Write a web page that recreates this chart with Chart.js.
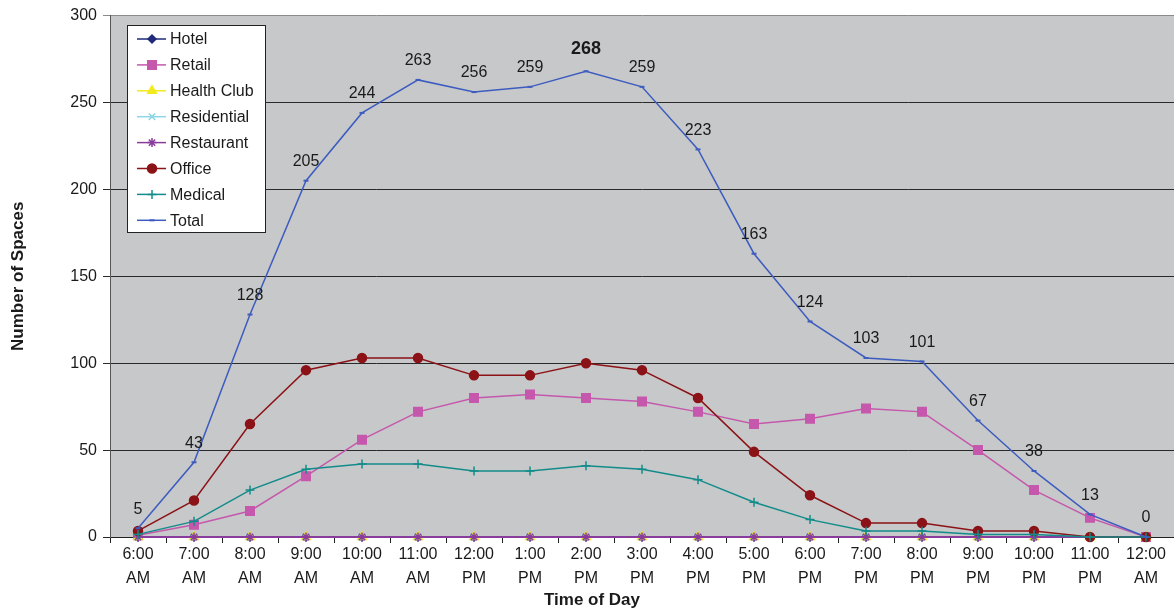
<!DOCTYPE html>
<html>
<head>
<meta charset="utf-8">
<script src="https://cdn.jsdelivr.net/npm/chart.js@4/dist/chart.umd.min.js"></script>
<style>
  html, body { margin: 0; padding: 0; background: #ffffff; }
  #wrap { width: 1174px; height: 610px; }
</style>
</head>
<body>
<div id="wrap"><canvas id="c" width="1174" height="610"></canvas></div>
<script>
// Hourly parking demand by land use
const timeLabels = [
  ['6:00','AM'], ['7:00','AM'], ['8:00','AM'], ['9:00','AM'], ['10:00','AM'], ['11:00','AM'],
  ['12:00','PM'], ['1:00','PM'], ['2:00','PM'], ['3:00','PM'], ['4:00','PM'], ['5:00','PM'],
  ['6:00','PM'], ['7:00','PM'], ['8:00','PM'], ['9:00','PM'], ['10:00','PM'], ['11:00','PM'],
  ['12:00','AM']
];
const hotel       = [0,0,0,0,0,0,0,0,0,0,0,0,0,0,0,0,0,0,0];
const retail      = [1,7,15,35,56,72,80,82,80,78,72,65,68,74,72,50,27,11,0];
const healthClub  = [0,0,0,0,0,0,0,0,0,0,0,0,0,0,0,0,0,0,0];
const residential = [0,0,0,0,0,0,0,0,0,0,0,0,0,0,0,0,0,0,0];
const restaurant  = [0,0,0,0,0,0,0,0,0,0,0,0,0,0,0,0,0,0,0];
const office      = [3.5,21,65,96,103,103,93,93,100,96,80,49,24,8,8,3.5,3.5,0,0];
const medical     = [1.5,9,27,39,42,42,38,38,41,39,33,20,10,3.5,3.5,1.5,1.5,0,0];
const total       = [5,43,128,205,244,263,256,259,268,259,223,163,124,103,101,67,38,13,0];
const yTicks      = [0,50,100,150,200,250,300];

const FONT = '"Liberation Sans", Arial, sans-serif';

function series(label, data, color, style, radius, order, fill) {
  return {
    label, data, order,
    borderColor: color, backgroundColor: fill || color,
    pointBorderColor: color, pointBackgroundColor: fill || color,
    borderWidth: 1.5, pointStyle: style, pointRadius: radius,
    pointBorderWidth: 1.5, pointHoverRadius: radius,
    tension: 0, clip: false
  };
}

const datasets = [
  series('Hotel', hotel, '#1f2a7a', 'rectRot', 4, 8),
  series('Retail', retail, '#c558ac', 'rect', 6, 7),
  series('Health Club', healthClub, '#f2ea1a', 'triangle', 5, 6),
  series('Residential', residential, '#8fd6e6', 'crossRot', 4.5, 5),
  series('Restaurant', restaurant, '#8a3c9c', 'star', 4.5, 4),
  series('Office', office, '#8b1216', 'circle', 4.5, 3),
  series('Medical', medical, '#128c8a', 'cross', 4.5, 2),
  series('Total', total, '#3d5cc0', 'line', 2.5, 1)
];
datasets[4].borderWidth = 2;
datasets[7].pointBorderWidth = 2;

// Gray plot background
const plotBg = {
  id: 'plotBg',
  beforeDraw(chart) {
    const a = chart.chartArea, ctx = chart.ctx;
    ctx.save();
    ctx.fillStyle = '#c7c8ca';
    ctx.fillRect(a.left, a.top, a.right - a.left, a.bottom - a.top);
    ctx.restore();
  }
};

// Value labels above the Total line; the peak is emphasised
const totalLabels = {
  id: 'totalLabels',
  afterDatasetsDraw(chart) {
    const idx = chart.data.datasets.findIndex(d => d.label === 'Total');
    const meta = chart.getDatasetMeta(idx);
    const vals = chart.data.datasets[idx].data;
    const peak = Math.max(...vals);
    const ctx = chart.ctx;
    ctx.save();
    ctx.fillStyle = '#1a1a1a';
    ctx.textAlign = 'center';
    ctx.textBaseline = 'middle';
    meta.data.forEach((pt, i) => {
      const isPeak = vals[i] === peak;
      ctx.font = (isPeak ? 'bold 18px ' : '16px ') + FONT;
      ctx.fillText(String(vals[i]), pt.x, pt.y - (isPeak ? 22 : 19));
    });
    ctx.restore();
  }
};

// Boxed legend inside the plot, upper left
const boxLegend = {
  id: 'boxLegend',
  afterDraw(chart) {
    const ctx = chart.ctx;
    const x0 = 127, y0 = 25, w = 138, h = 207;
    ctx.save();
    ctx.fillStyle = '#ffffff';
    ctx.fillRect(x0, y0, w, h);
    ctx.strokeStyle = '#222';
    ctx.lineWidth = 1;
    ctx.strokeRect(x0 + 0.5, y0 + 0.5, w, h);
    chart.data.datasets.forEach((d, i) => {
      const y = 39 + i * 25.9;
      ctx.strokeStyle = d.borderColor;
      ctx.lineWidth = 1.5;
      ctx.beginPath();
      ctx.moveTo(137, y); ctx.lineTo(166, y);
      ctx.stroke();
      ctx.fillStyle = d.pointBackgroundColor;
      ctx.strokeStyle = d.pointBorderColor;
      ctx.lineWidth = d.pointBorderWidth;
      Chart.helpers.drawPoint(ctx, {
        pointStyle: d.pointStyle, rotation: 0,
        radius: d.pointRadius, borderWidth: d.pointBorderWidth
      }, 152, y);
      ctx.fillStyle = '#1a1a1a';
      ctx.font = '16px ' + FONT;
      ctx.textAlign = 'left';
      ctx.textBaseline = 'middle';
      ctx.fillText(d.label, 170, y + 1);
    });
    ctx.restore();
  }
};

// Horizontal axis title
const xTitle = {
  id: 'xTitle',
  afterDraw(chart) {
    const ctx = chart.ctx;
    ctx.save();
    ctx.fillStyle = '#1a1a1a';
    ctx.font = 'bold 17px ' + FONT;
    ctx.textAlign = 'center';
    ctx.textBaseline = 'middle';
    ctx.fillText('Time of Day', 592, 600);
    ctx.restore();
  }
};

new Chart(document.getElementById('c'), {
  type: 'line',
  data: { labels: timeLabels, datasets },
  options: {
    responsive: false,
    animation: false,
    events: [],
    layout: { autoPadding: false, padding: { top: 15, right: 0, bottom: 0, left: 0 } },
    plugins: { legend: { display: false }, tooltip: { enabled: false } },
    scales: {
      x: {
        offset: true,
        grid: { display: true, drawOnChartArea: false, offset: true, tickLength: 6, color: '#222', lineWidth: 1 },
        border: { display: true, color: '#222', width: 1 },
        ticks: { color: '#1a1a1a', font: { family: FONT, size: 16, lineHeight: 1.5 }, padding: 0, maxRotation: 0, autoSkip: false },
        afterFit(scale) { scale.height = 73; scale.paddingLeft = 0; scale.paddingRight = 0; }
      },
      y: {
        min: 0, max: 300,
        afterBuildTicks(scale) { scale.ticks = yTicks.map(v => ({ value: v })); },
        grid: {
          color: ctx => (ctx.tick && ctx.tick.value === 300) ? '#8a8a8a' : '#2a2a2a',
          lineWidth: 1, tickLength: 7, drawTicks: true
        },
        border: { display: true, color: '#555', width: 1 },
        ticks: { color: '#1a1a1a', font: { family: FONT, size: 16 }, padding: 6 },
        title: { display: true, text: 'Number of Spaces', color: '#1a1a1a', font: { family: FONT, size: 17, weight: 'bold' }, padding: { top: 8, bottom: 0 } },
        afterFit(scale) { scale.width = 110; }
      }
    }
  },
  plugins: [plotBg, totalLabels, boxLegend, xTitle]
});
</script>
</body>
</html>
